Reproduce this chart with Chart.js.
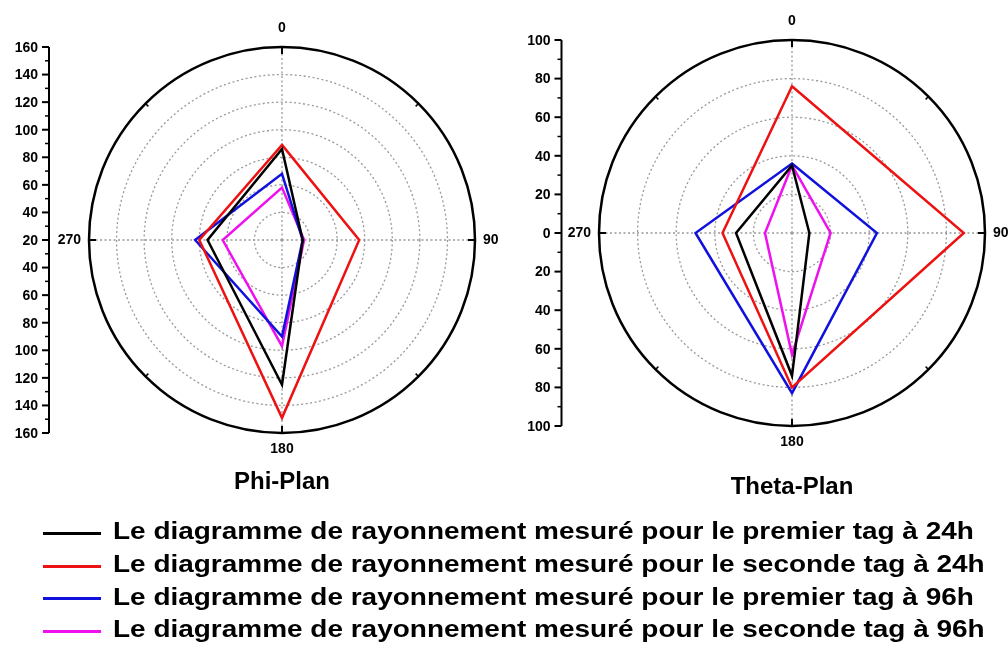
<!DOCTYPE html>
<html>
<head>
<meta charset="utf-8">
<title>Phi-Plan / Theta-Plan</title>
<script src="https://cdn.jsdelivr.net/npm/chart.js@4.4.0/dist/chart.umd.min.js"></script>
<style>
  html, body { margin: 0; padding: 0; background: #fff; overflow: hidden; }
  body { width: 1008px; height: 646px; position: relative; font-family: "Liberation Sans", Arial, sans-serif; }
  canvas { position: absolute; top: 0; }
  #phi { left: 0; }
  #theta { left: 504px; }
  #legend { position: absolute; left: 43px; top: 515px; }
  .row { display: flex; align-items: center; height: 32.7px; font-weight: bold; font-size: 24px; color: #000; white-space: nowrap; }
  .swatch { width: 58px; height: 3px; margin-right: 12px; position: relative; top: 2px; }
  .txt { display: inline-block; transform: scaleX(1.165); transform-origin: left center; }
</style>
</head>
<body>
<canvas id="phi" width="504" height="520"></canvas>
<canvas id="theta" width="504" height="520"></canvas>
<div id="legend"></div>

<script>
// Angles of the polar plots (clockwise from the top)
const angles = ['0', '90', '180', '270'];

const seriesNames = [
    'Le diagramme de rayonnement mesuré pour le premier tag à 24h',
    'Le diagramme de rayonnement mesuré pour le seconde tag à 24h',
    'Le diagramme de rayonnement mesuré pour le premier tag à 96h',
    'Le diagramme de rayonnement mesuré pour le seconde tag à 96h'
];
const seriesColors = ['#000000', '#ee1111', '#1111dd', '#ee11ee'];

// Phi-Plan values at 0 / 90 / 180 / 270
const phiBlack   = [86, 35, 125, 74];
const phiRed     = [89, 76, 149, 80];
const phiBlue    = [68, 35, 90, 83];
const phiMagenta = [58, 36, 97, 63];
const phiTicks   = [20, 40, 60, 80, 100, 120, 140, 160];

// Theta-Plan values at 0 / 90 / 180 / 270
const thetaBlack   = [35, 9, 74, 29];
const thetaRed     = [76, 89, 80, 36];
const thetaBlue    = [36, 44, 83, 50];
const thetaMagenta = [35, 20, 63, 14];
const thetaTicks   = [0, 20, 40, 60, 80, 100];

const FONT = '"Liberation Sans", Arial, sans-serif';

// Outer ticks, angle labels and the vertical scale on the left
const polarFrame = {
    id: 'polarFrame',
    afterDraw(chart, args, opts) {
        const ctx = chart.ctx;
        const r = chart.scales.r;
        const cx = r.xCenter, cy = r.yCenter, R = r.drawingArea;
        ctx.save();
        ctx.strokeStyle = '#000';
        ctx.fillStyle = '#000';

        // ticks on the outer circle
        chart.data.labels.forEach((lab, i) => {
            ctx.lineWidth = 2;
            const a = r.getPointPosition(i, R);
            const b = r.getPointPosition(i, R - 7);
            ctx.beginPath();
            ctx.moveTo(a.x, a.y);
            ctx.lineTo(b.x, b.y);
            ctx.stroke();
            const ang = r.getIndexAngle(i) + Math.PI / 4 - Math.PI / 2;
            ctx.lineWidth = 1.5;
            ctx.beginPath();
            ctx.moveTo(cx + Math.cos(ang) * R, cy + Math.sin(ang) * R);
            ctx.lineTo(cx + Math.cos(ang) * (R - 4), cy + Math.sin(ang) * (R - 4));
            ctx.stroke();
        });

        // angle labels
        ctx.font = 'bold 14px ' + FONT;
        const place = [['center', 'alphabetic', 15], ['left', 'middle', 8], ['center', 'top', 9], ['right', 'middle', 8]];
        chart.data.labels.forEach((lab, i) => {
            const p = r.getPointPosition(i, R + place[i][2]);
            ctx.textAlign = place[i][0];
            ctx.textBaseline = place[i][1];
            ctx.fillText(lab, p.x, p.y);
        });

        // vertical scale
        const x = opts.axisX;
        ctx.lineWidth = 2;
        ctx.beginPath();
        ctx.moveTo(x, cy - R);
        ctx.lineTo(x, cy + R);
        ctx.stroke();
        ctx.textAlign = 'right';
        ctx.textBaseline = 'middle';
        const ticks = r.ticks.map(t => t.value);
        ticks.forEach((v, k) => {
            const d = r.getDistanceFromCenterForValue(v);
            const ys = d === 0 ? [cy] : [cy - d, cy + d];
            ys.forEach(y => {
                ctx.lineWidth = 2;
                ctx.beginPath();
                ctx.moveTo(x - 7, y);
                ctx.lineTo(x, y);
                ctx.stroke();
                ctx.fillText(String(v), x - 11, y + 1);
            });
            if (k < ticks.length - 1) {
                const dm = r.getDistanceFromCenterForValue((v + ticks[k + 1]) / 2);
                [cy - dm, cy + dm].forEach(y => {
                    ctx.lineWidth = 1.5;
                    ctx.beginPath();
                    ctx.moveTo(x - 4, y);
                    ctx.lineTo(x, y);
                    ctx.stroke();
                });
            }
        });
        ctx.restore();
    }
};

function makePolar(canvasId, title, series, ticks, pad, titlePadTop, axisX) {
    const last = ticks.length - 1;
    return new Chart(document.getElementById(canvasId), {
        type: 'radar',
        data: {
            labels: angles,
            datasets: series.map((vals, i) => ({
                label: seriesNames[i],
                data: vals,
                borderColor: seriesColors[i],
                backgroundColor: 'transparent',
                borderWidth: 2.5,
                fill: false,
                pointRadius: 0,
                tension: 0
            }))
        },
        options: {
            responsive: false,
            animation: false,
            events: [],
            layout: { padding: pad },
            scales: {
                r: {
                    min: ticks[0],
                    max: ticks[last],
                    ticks: { display: false, stepSize: 20 },
                    pointLabels: { display: false },
                    grid: {
                        circular: true,
                        color: c => c.index === last ? '#000' : '#999999',
                        lineWidth: c => c.index === last ? 2.5 : 1.3
                    },
                    border: { dash: c => c.index === last ? [] : [2, 2.5] },
                    angleLines: { color: '#999999', lineWidth: 1.3, borderDash: [2, 2.5] }
                }
            },
            plugins: {
                legend: { display: false },
                tooltip: { enabled: false },
                title: {
                    display: true,
                    text: title,
                    position: 'bottom',
                    color: '#000',
                    font: { family: FONT, size: 24, weight: 'bold' },
                    padding: { top: titlePadTop, bottom: 5 }
                },
                polarFrame: { axisX: axisX }
            }
        },
        plugins: [polarFrame]
    });
}

makePolar('phi', 'Phi-Plan',
    [phiBlack, phiRed, phiBlue, phiMagenta], phiTicks,
    { left: 89, right: 29, top: 47, bottom: 18 }, 35, 49);

makePolar('theta', 'Theta-Plan',
    [thetaBlack, thetaRed, thetaBlue, thetaMagenta], thetaTicks,
    { left: 95, right: 23, top: 40, bottom: 13 }, 47, 57.5);

// legend under both plots
const legend = document.getElementById('legend');
seriesNames.forEach((name, i) => {
    const row = document.createElement('div');
    row.className = 'row';
    row.innerHTML = `<span class="swatch" style="background:${seriesColors[i]}"></span><span class="txt">${name}</span>`;
    legend.appendChild(row);
});
</script>
</body>
</html>
